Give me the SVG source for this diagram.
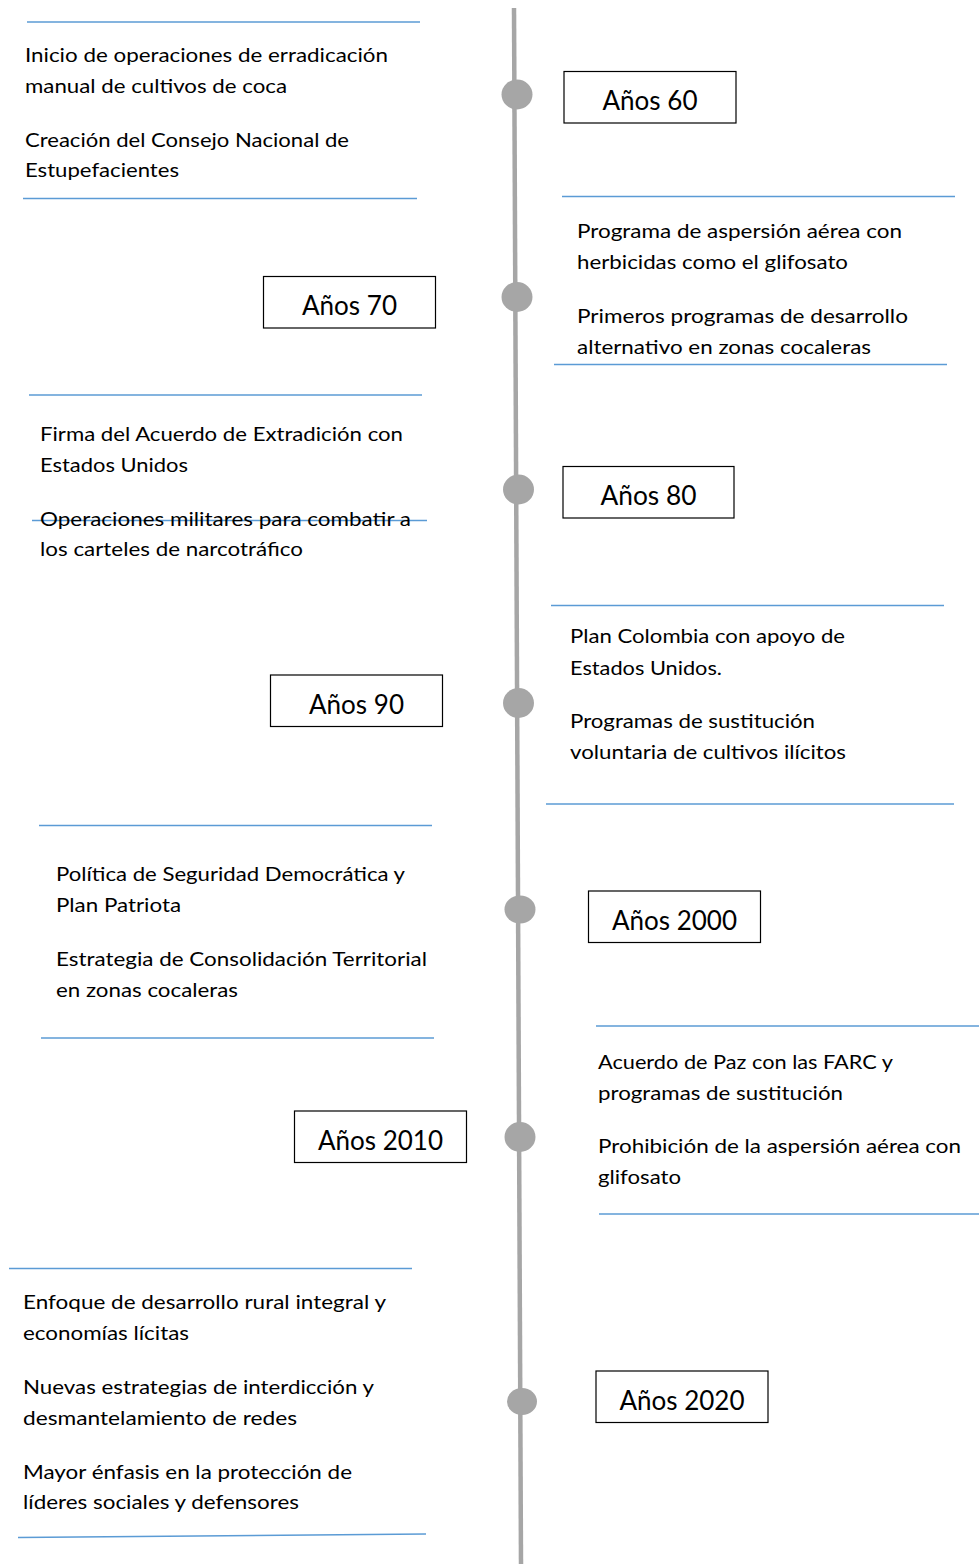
<svg xmlns="http://www.w3.org/2000/svg" width="979" height="1564" viewBox="0 0 979 1564">
<style>
.t{font-family:Lato,"Open Sans","Liberation Sans",sans-serif;font-size:20px;fill:#000}
.y{font-family:Lato,"Open Sans","Liberation Sans",sans-serif;font-size:26px;fill:#000;text-anchor:middle}
.b{fill:#fff;stroke:#000;stroke-width:1.2}
.s{stroke:#5b9bd5;stroke-width:1.5;fill:none}
.d{fill:#a6a6a6}
</style>
<rect width="979" height="1564" fill="#fff"/>
<g id="connectors">
<line x1="514" y1="8" x2="521" y2="1564" stroke="#a6a6a6" stroke-width="4.5"/>
<line class="s" x1="27" y1="22" x2="420" y2="22"/>
<line class="s" x1="23" y1="198.5" x2="417" y2="198.5"/>
<line class="s" x1="562" y1="196.5" x2="955" y2="196.5"/>
<line class="s" x1="554" y1="364.5" x2="947" y2="364.5"/>
<line class="s" x1="29" y1="395" x2="422" y2="395"/>
<line class="s" x1="32" y1="520.5" x2="427" y2="520.5"/>
<line class="s" x1="551" y1="605.5" x2="944" y2="605.5"/>
<line class="s" x1="546" y1="804" x2="954" y2="804"/>
<line class="s" x1="39" y1="825.5" x2="432" y2="825.5"/>
<line class="s" x1="41" y1="1038" x2="434" y2="1038"/>
<line class="s" x1="596" y1="1026" x2="979" y2="1026"/>
<line class="s" x1="599" y1="1214" x2="979" y2="1214"/>
<line class="s" x1="9" y1="1268.5" x2="412" y2="1268.5"/>
<line class="s" x1="18" y1="1537.5" x2="426" y2="1534"/>
</g>
<g id="dot60"><ellipse class="d" cx="517" cy="94.5" rx="15.5" ry="15"/></g>
<g id="dot70"><ellipse class="d" cx="517" cy="297" rx="15.5" ry="15"/></g>
<g id="dot80"><ellipse class="d" cx="518.5" cy="489.5" rx="15.5" ry="15"/></g>
<g id="dot90"><ellipse class="d" cx="518.5" cy="703" rx="15.5" ry="15"/></g>
<g id="dot2000"><ellipse class="d" cx="520" cy="909.5" rx="15.5" ry="14"/></g>
<g id="dot2010"><ellipse class="d" cx="520" cy="1137" rx="15.5" ry="15"/></g>
<g id="dot2020"><ellipse class="d" cx="522" cy="1401.5" rx="15" ry="13.5"/></g>

<g id="box60"><rect class="b" x="564" y="71.5" width="172" height="51.5"/><text class="y" x="650" y="110" textLength="95" lengthAdjust="spacingAndGlyphs">Años 60</text></g>
<g id="box70"><rect class="b" x="263.5" y="276.5" width="172" height="51.5"/><text class="y" x="349.5" y="315" textLength="95" lengthAdjust="spacingAndGlyphs">Años 70</text></g>
<g id="box80"><rect class="b" x="563" y="466.5" width="171" height="51.5"/><text class="y" x="648.5" y="505" textLength="96" lengthAdjust="spacingAndGlyphs">Años 80</text></g>
<g id="box90"><rect class="b" x="270.5" y="675" width="172" height="51.5"/><text class="y" x="356.5" y="713.5" textLength="95" lengthAdjust="spacingAndGlyphs">Años 90</text></g>
<g id="box2000"><rect class="b" x="588.5" y="891" width="172" height="51.5"/><text class="y" x="674.5" y="929.5" textLength="125" lengthAdjust="spacingAndGlyphs">Años 2000</text></g>
<g id="box2010"><rect class="b" x="294.5" y="1111" width="172" height="51.5"/><text class="y" x="380.5" y="1149.5" textLength="125" lengthAdjust="spacingAndGlyphs">Años 2010</text></g>
<g id="box2020"><rect class="b" x="596" y="1371" width="172" height="51.5"/><text class="y" x="682" y="1409.5" textLength="125" lengthAdjust="spacingAndGlyphs">Años 2020</text></g>

<g id="text60">
<text class="t" x="25" y="62" textLength="363" lengthAdjust="spacingAndGlyphs">Inicio de operaciones de erradicación</text>
<text class="t" x="25" y="93" textLength="262" lengthAdjust="spacingAndGlyphs">manual de cultivos de coca</text>
<text class="t" x="25" y="147" textLength="324" lengthAdjust="spacingAndGlyphs">Creación del Consejo Nacional de</text>
<text class="t" x="25" y="177" textLength="154" lengthAdjust="spacingAndGlyphs">Estupefacientes</text>
</g>
<g id="text70">
<text class="t" x="577" y="238" textLength="325" lengthAdjust="spacingAndGlyphs">Programa de aspersión aérea con</text>
<text class="t" x="577" y="269" textLength="271" lengthAdjust="spacingAndGlyphs">herbicidas como el glifosato</text>
<text class="t" x="577" y="323" textLength="331" lengthAdjust="spacingAndGlyphs">Primeros programas de desarrollo</text>
<text class="t" x="577" y="354" textLength="294" lengthAdjust="spacingAndGlyphs">alternativo en zonas cocaleras</text>
</g>
<g id="text80">
<text class="t" x="40" y="441" textLength="363" lengthAdjust="spacingAndGlyphs">Firma del Acuerdo de Extradición con</text>
<text class="t" x="40" y="472" textLength="148" lengthAdjust="spacingAndGlyphs">Estados Unidos</text>
<text class="t" x="40" y="526" textLength="371" lengthAdjust="spacingAndGlyphs">Operaciones militares para combatir a</text>
<text class="t" x="40" y="556" textLength="263" lengthAdjust="spacingAndGlyphs">los carteles de narcotráfico</text>
</g>
<g id="text90">
<text class="t" x="570" y="643" textLength="275" lengthAdjust="spacingAndGlyphs">Plan Colombia con apoyo de</text>
<text class="t" x="570" y="675" textLength="152" lengthAdjust="spacingAndGlyphs">Estados Unidos.</text>
<text class="t" x="570" y="728" textLength="245" lengthAdjust="spacingAndGlyphs">Programas de sustitución</text>
<text class="t" x="570" y="759" textLength="276" lengthAdjust="spacingAndGlyphs">voluntaria de cultivos ilícitos</text>
</g>
<g id="text2000">
<text class="t" x="56" y="881" textLength="349" lengthAdjust="spacingAndGlyphs">Política de Seguridad Democrática y</text>
<text class="t" x="56" y="912" textLength="125" lengthAdjust="spacingAndGlyphs">Plan Patriota</text>
<text class="t" x="56" y="966" textLength="371" lengthAdjust="spacingAndGlyphs">Estrategia de Consolidación Territorial</text>
<text class="t" x="56" y="997" textLength="182" lengthAdjust="spacingAndGlyphs">en zonas cocaleras</text>
</g>
<g id="text2010">
<text class="t" x="598" y="1069" textLength="295" lengthAdjust="spacingAndGlyphs">Acuerdo de Paz con las FARC y</text>
<text class="t" x="598" y="1100" textLength="245" lengthAdjust="spacingAndGlyphs">programas de sustitución</text>
<text class="t" x="598" y="1153" textLength="363" lengthAdjust="spacingAndGlyphs">Prohibición de la aspersión aérea con</text>
<text class="t" x="598" y="1184" textLength="83" lengthAdjust="spacingAndGlyphs">glifosato</text>
</g>
<g id="text2020">
<text class="t" x="23" y="1309" textLength="363" lengthAdjust="spacingAndGlyphs">Enfoque de desarrollo rural integral y</text>
<text class="t" x="23" y="1340" textLength="166" lengthAdjust="spacingAndGlyphs">economías lícitas</text>
<text class="t" x="23" y="1394" textLength="351" lengthAdjust="spacingAndGlyphs">Nuevas estrategias de interdicción y</text>
<text class="t" x="23" y="1425" textLength="274" lengthAdjust="spacingAndGlyphs">desmantelamiento de redes</text>
<text class="t" x="23" y="1479" textLength="329" lengthAdjust="spacingAndGlyphs">Mayor énfasis en la protección de</text>
<text class="t" x="23" y="1509" textLength="276" lengthAdjust="spacingAndGlyphs">líderes sociales y defensores</text>
</g>
</svg>
